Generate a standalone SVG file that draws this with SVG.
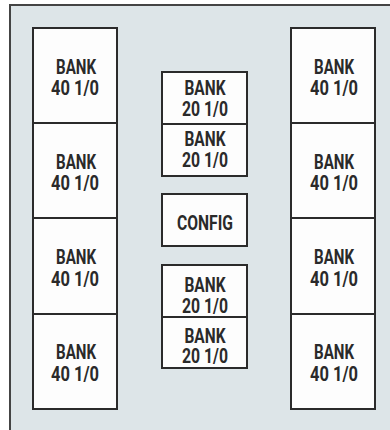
<svg xmlns="http://www.w3.org/2000/svg" width="390" height="430" viewBox="0 0 390 430">
<style>
.box{fill:#fdfdfd;stroke:#2b2b2b;stroke-width:2}
.t{font-family:Roboto,"Liberation Sans",sans-serif;font-weight:bold;font-size:21px;fill:#2a2a2a;text-anchor:middle}
</style>
<rect width="390" height="430" fill="#ffffff"/>
<rect id="frame" x="10" y="5" width="390" height="440" fill="#dde5e8" stroke="#444" stroke-width="2"/>
<g id="connectors"></g>
<g id="L1"><rect class="box" x="33" y="28" width="84" height="95"/><text class="t" x="76" y="73.5" textLength="40" lengthAdjust="spacingAndGlyphs">BANK</text><text class="t" x="75" y="95" textLength="48" lengthAdjust="spacingAndGlyphs">40 1/0</text></g>
<g id="L2"><rect class="box" x="33" y="123" width="84" height="95"/><text class="t" x="76" y="168.5" textLength="40" lengthAdjust="spacingAndGlyphs">BANK</text><text class="t" x="75" y="190" textLength="48" lengthAdjust="spacingAndGlyphs">40 1/0</text></g>
<g id="L3"><rect class="box" x="33" y="218" width="84" height="96"/><text class="t" x="76" y="264" textLength="40" lengthAdjust="spacingAndGlyphs">BANK</text><text class="t" x="75" y="285.5" textLength="48" lengthAdjust="spacingAndGlyphs">40 1/0</text></g>
<g id="L4"><rect class="box" x="33" y="314" width="84" height="95"/><text class="t" x="76" y="359" textLength="40" lengthAdjust="spacingAndGlyphs">BANK</text><text class="t" x="75" y="380.5" textLength="48" lengthAdjust="spacingAndGlyphs">40 1/0</text></g>
<g id="R1"><rect class="box" x="291" y="28" width="84" height="95"/><text class="t" x="334" y="73.5" textLength="40" lengthAdjust="spacingAndGlyphs">BANK</text><text class="t" x="334" y="95" textLength="48" lengthAdjust="spacingAndGlyphs">40 1/0</text></g>
<g id="R2"><rect class="box" x="291" y="123" width="84" height="95"/><text class="t" x="334" y="168.5" textLength="40" lengthAdjust="spacingAndGlyphs">BANK</text><text class="t" x="334" y="190" textLength="48" lengthAdjust="spacingAndGlyphs">40 1/0</text></g>
<g id="R3"><rect class="box" x="291" y="218" width="84" height="96"/><text class="t" x="334" y="264" textLength="40" lengthAdjust="spacingAndGlyphs">BANK</text><text class="t" x="334" y="285.5" textLength="48" lengthAdjust="spacingAndGlyphs">40 1/0</text></g>
<g id="R4"><rect class="box" x="291" y="314" width="84" height="95"/><text class="t" x="334" y="359" textLength="40" lengthAdjust="spacingAndGlyphs">BANK</text><text class="t" x="334" y="380.5" textLength="48" lengthAdjust="spacingAndGlyphs">40 1/0</text></g>
<g id="C1"><rect class="box" x="162" y="72" width="85" height="52"/><text class="t" x="205" y="95" textLength="41" lengthAdjust="spacingAndGlyphs">BANK</text><text class="t" x="205" y="115.5" textLength="46" lengthAdjust="spacingAndGlyphs">20 1/0</text></g>
<g id="C2"><rect class="box" x="162" y="124" width="85" height="52"/><text class="t" x="205" y="146" textLength="41" lengthAdjust="spacingAndGlyphs">BANK</text><text class="t" x="205" y="166.5" textLength="46" lengthAdjust="spacingAndGlyphs">20 1/0</text></g>
<g id="CONFIG"><rect class="box" x="162" y="194" width="85" height="52"/><text class="t" x="205" y="230" textLength="56" lengthAdjust="spacingAndGlyphs">CONFIG</text></g>
<g id="C3"><rect class="box" x="162" y="265" width="85" height="52"/><text class="t" x="205" y="292" textLength="41" lengthAdjust="spacingAndGlyphs">BANK</text><text class="t" x="205" y="313" textLength="46" lengthAdjust="spacingAndGlyphs">20 1/0</text></g>
<g id="C4"><rect class="box" x="162" y="317" width="85" height="51"/><text class="t" x="205" y="343" textLength="41" lengthAdjust="spacingAndGlyphs">BANK</text><text class="t" x="205" y="363" textLength="46" lengthAdjust="spacingAndGlyphs">20 1/0</text></g>
</svg>
